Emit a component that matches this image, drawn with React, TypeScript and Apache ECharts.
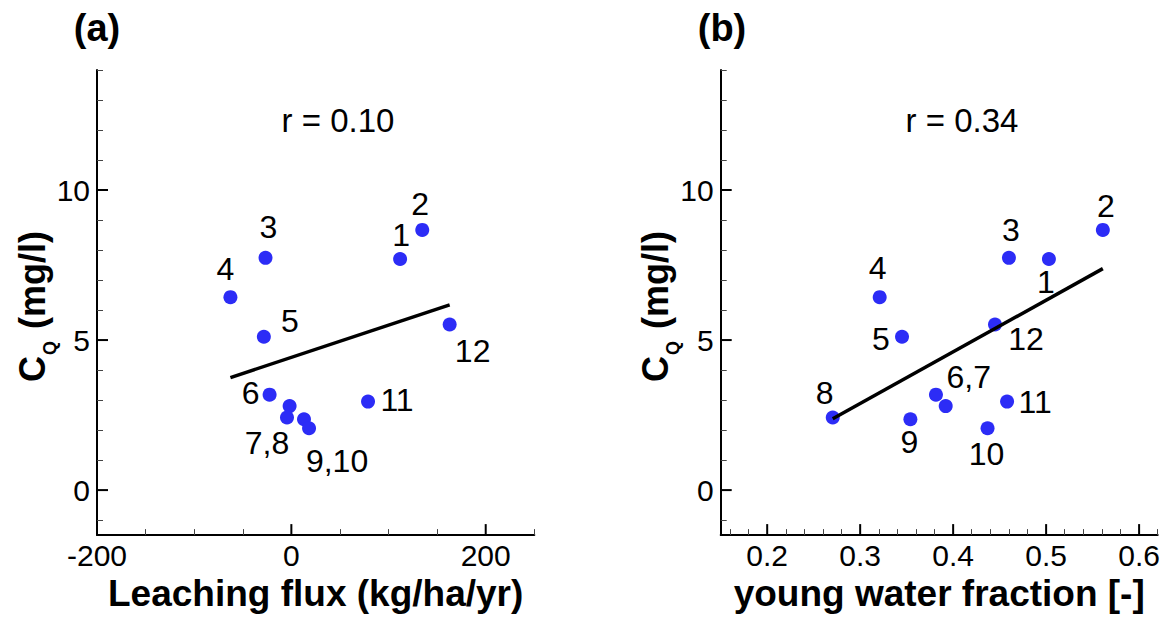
import React, { useEffect, useRef } from 'react';
import * as echarts from 'echarts';

// ---- data ----
const siteIds = ['1', '2', '3', '4', '5', '6', '7', '8', '9', '10', '11', '12'];
const leachingFlux = [111.9, 134.7, -26.6, -62.7, -28.3, -22.4, -1.8, -4.5, 13.0, 18.2, 78.9, 162.9];
const youngWaterFraction = [0.503, 0.561, 0.46, 0.321, 0.345, 0.3815, 0.392, 0.2705, 0.354, 0.437, 0.458, 0.445];
const cqValues = [7.7, 8.67, 7.74, 6.43, 5.11, 3.18, 2.8, 2.42, 2.36, 2.06, 2.95, 5.52];
const pointLabelsA = ['1', '2', '3', '4', '5', '6', '', '7,8', '', '9,10', '11', '12'];
const pointLabelsB = ['1', '2', '3', '4', '5', '', '6,7', '8', '9', '10', '11', '12'];
const fitLineA = [[-62.7, 3.75], [162.9, 6.17]];
const fitLineB = [[0.2705, 2.38], [0.561, 7.38]];
const correlationTexts = ['r = 0.10', 'r = 0.34'];
const panelTags = ['(a)', '(b)'];
const xNameA = 'Leaching flux (kg/ha/yr)';
const xNameB = 'young water fraction [-]';
const xRangeA = [-200, 250];
const xRangeB = [0.15, 0.62];
const yRange = [-1.5, 14];
const xMajorA = [-200, 0, 200];
const xMinorA = [-150, -100, -50, 50, 100, 150, 250];
const xMajorB = [0.2, 0.3, 0.4, 0.5, 0.6];
const xMinorB = [0.16, 0.18, 0.22, 0.24, 0.26, 0.28, 0.32, 0.34, 0.36, 0.38, 0.42, 0.44, 0.46, 0.48, 0.52, 0.54, 0.56, 0.58, 0.62];
const yMajor = [0, 5, 10];
const yMinor = [-1, 1, 2, 3, 4, 6, 7, 8, 9, 11, 12, 13, 14];

// ---- label placement (style) ----
const labelOffsetsA = [[1, -24], [-2, -26], [3, -31], [-5, -28], [26, -16], [-19, -2], [0, 0], [-20, 26], [0, 0], [28, 33], [29, -2], [23, 27]];
const labelOffsetsB = [[-3, 23], [3, -24], [2, -28], [-2, -29], [-21, 2], [0, 0], [23, -29], [-8, -24], [-1, 23], [-1, 26], [28, 0], [31, 15]];

const FONT = '"Liberation Sans", Arial, Helvetica, sans-serif';
const TICK_FONT = 30;
const MAJOR_LEN = 11;

function mainX(gridIndex: number, range: number[], ticks: number[], name: string, dec: number) {
  return {
    type: 'value', gridIndex, position: 'bottom', min: range[0], max: range[1],
    name, nameLocation: 'middle', nameGap: 29,
    nameTextStyle: { fontFamily: FONT, fontSize: 37, fontWeight: 'bold', color: '#000' },
    axisLine: { show: true, onZero: false, lineStyle: { color: '#000', width: 2 } },
    axisTick: { show: false },
    axisLabel: {
      show: true, customValues: ticks, margin: 5, fontFamily: FONT, fontSize: TICK_FONT, color: '#000',
      formatter: (v: number) => (dec > 0 ? v.toFixed(dec) : String(v)),
    },
    splitLine: { show: false }, minorTick: { show: false },
  };
}
function tickX(gridIndex: number, range: number[], ticks: number[]) {
  return {
    type: 'value', gridIndex, position: 'bottom', min: range[0], max: range[1],
    axisLine: { show: false, onZero: false },
    axisTick: { show: true, inside: true, length: 6, customValues: ticks, lineStyle: { color: '#444', width: 1 } },
    axisLabel: { show: false }, splitLine: { show: false },
  };
}
function mainY(gridIndex: number) {
  return {
    type: 'value', gridIndex, position: 'left', min: yRange[0], max: yRange[1],
    axisLine: { show: true, onZero: false, lineStyle: { color: '#000', width: 2 } },
    axisTick: { show: false },
    axisLabel: { show: true, customValues: yMajor, margin: 7, fontFamily: FONT, fontSize: TICK_FONT, color: '#000' },
    splitLine: { show: false }, minorTick: { show: false },
  };
}
function tickY(gridIndex: number) {
  return {
    type: 'value', gridIndex, position: 'left', min: yRange[0], max: yRange[1],
    axisLine: { show: false, onZero: false },
    axisTick: { show: true, inside: true, length: 6, customValues: yMinor, lineStyle: { color: '#444', width: 1 } },
    axisLabel: { show: false }, splitLine: { show: false },
  };
}

// major tick marks, positioned through the axes' own scales
function majorTickSeries(axisIndex: number, xTicks: number[], xMin: number) {
  const data = [
    ...xTicks.map((v) => [v, yRange[0], 0]),
    ...yMajor.map((v) => [xMin, v, 1]),
  ];
  return {
    type: 'custom', xAxisIndex: axisIndex, yAxisIndex: axisIndex, silent: true, z: 10, clip: false,
    data,
    renderItem: (_p: any, api: any) => {
      const pt = api.coord([api.value(0), api.value(1)]);
      const vertical = api.value(2) === 0;
      return {
        type: 'line',
        shape: vertical
          ? { x1: pt[0], y1: pt[1], x2: pt[0], y2: pt[1] - MAJOR_LEN }
          : { x1: pt[0], y1: pt[1], x2: pt[0] + MAJOR_LEN, y2: pt[1] },
        style: { stroke: '#000', lineWidth: 2 },
      };
    },
  };
}

function scatterData(xs: number[], labels: string[], offsets: number[][]) {
  return xs.map((x, i) => ({
    name: siteIds[i],
    value: [x, cqValues[i]],
    label: { show: labels[i] !== '', formatter: labels[i], position: 'inside', offset: offsets[i] },
  }));
}

function yNameGroup(x: number, y: number) {
  const big = { fontSize: 36, fontWeight: 'bold', fontFamily: FONT, fill: '#000', verticalAlign: 'middle' };
  return {
    type: 'group', x, y, rotation: Math.PI / 2,
    children: [
      { type: 'text', x: 0, y: -12.9, style: { ...big, text: 'C', align: 'left' } },
      { type: 'text', x: 27, y: 5, style: { text: 'Q', fontSize: 18, fontWeight: 'bold', fontFamily: FONT, fill: '#000', align: 'left', verticalAlign: 'middle' } },
      { type: 'text', x: 151, y: -12.9, style: { ...big, text: '(mg/l)', align: 'right' } },
    ],
  };
}

export default function App() {
  const ref = useRef<HTMLDivElement>(null);
  useEffect(() => {
    if (!ref.current) return;
    const chart = echarts.init(ref.current, undefined, { renderer: 'svg' });
    const labelStyle = { fontFamily: FONT, fontSize: 32, color: '#000' };
    const txt = (text: string, x: number, y: number, size: number, weight: string) => ({
      type: 'text', x, y,
      style: { text, fontSize: size, fontWeight: weight, fontFamily: FONT, fill: '#000', align: 'center', verticalAlign: 'middle' },
    });
    chart.setOption({
      animation: false,
      backgroundColor: '#fff',
      grid: [
        { left: 97, top: 70, width: 437.3, height: 471.7 },
        { left: 720.7, top: 70, width: 437, height: 471.7 },
      ],
      xAxis: [
        mainX(0, xRangeA, xMajorA, xNameA, 0),
        tickX(0, xRangeA, xMinorA),
        mainX(1, xRangeB, xMajorB, xNameB, 1),
        tickX(1, xRangeB, xMinorB),
      ],
      yAxis: [mainY(0), tickY(0), mainY(1), tickY(1)],
      series: [
        majorTickSeries(0, xMajorA, xRangeA[0]),
        majorTickSeries(2, xMajorB, xRangeB[0]),
        {
          type: 'line', xAxisIndex: 0, yAxisIndex: 0, data: fitLineA, symbol: 'none', z: 5,
          lineStyle: { color: '#000', width: 3.5 },
        },
        {
          type: 'scatter', xAxisIndex: 0, yAxisIndex: 0, symbol: 'circle', symbolSize: 14, z: 3,
          itemStyle: { color: '#2c2cf6', opacity: 1 }, label: labelStyle,
          data: scatterData(leachingFlux, pointLabelsA, labelOffsetsA),
        },
        {
          type: 'line', xAxisIndex: 2, yAxisIndex: 2, data: fitLineB, symbol: 'none', z: 5,
          lineStyle: { color: '#000', width: 3.5 },
        },
        {
          type: 'scatter', xAxisIndex: 2, yAxisIndex: 2, symbol: 'circle', symbolSize: 14, z: 3,
          itemStyle: { color: '#2c2cf6', opacity: 1 }, label: labelStyle,
          data: scatterData(youngWaterFraction, pointLabelsB, labelOffsetsB),
        },
      ],
      graphic: [
        txt(panelTags[0], 97, 28, 38, 'bold'),
        txt(panelTags[1], 722, 28, 38, 'bold'),
        txt(correlationTexts[0], 338, 120, 33, 'normal'),
        txt(correlationTexts[1], 962, 120, 33, 'normal'),
        yNameGroup(45, 382),
        yNameGroup(668, 382),
      ],
    });
    return () => chart.dispose();
  }, []);
  return <div ref={ref} style={{ position: 'absolute', left: 0, top: 0, width: 1165, height: 617 }} />;
}
